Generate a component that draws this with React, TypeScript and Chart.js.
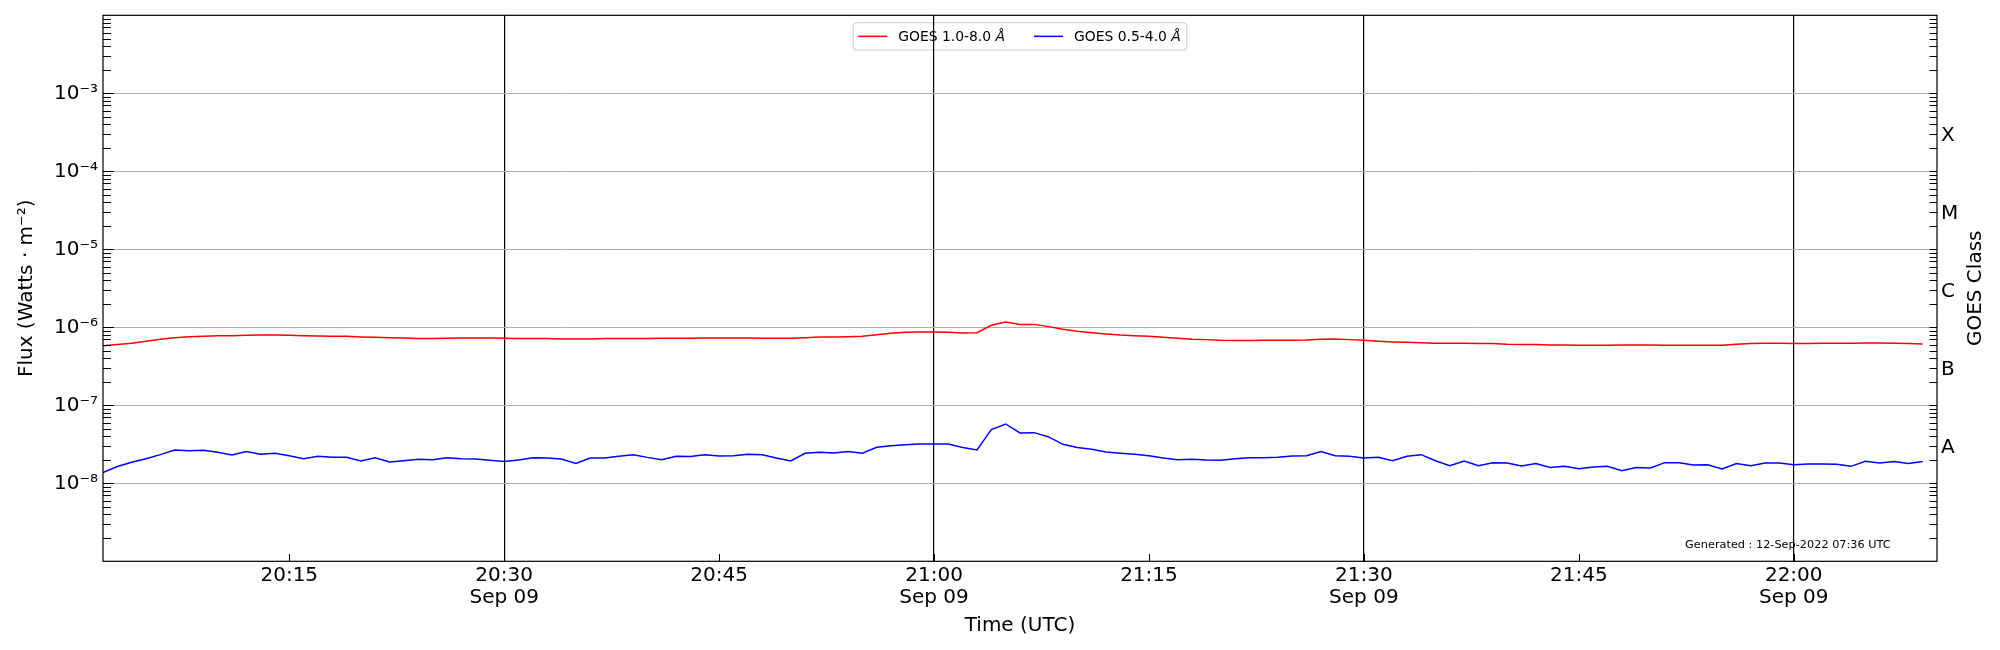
import React, { useEffect, useRef } from "react";
import { Chart, registerables } from "chart.js";

Chart.register(...registerables);

const FONT = "'DejaVu Sans', sans-serif";

// time axis, minutes after 00:00 UTC on Sep 09
const START_MINUTE = 20 * 60 + 2;
const END_MINUTE = 22 * 60 + 10;
const TICK_MINUTES = [1215, 1230, 1245, 1260, 1275, 1290, 1305, 1320];
const DATE_LABEL = "Sep 09";

// flux axis
const FLUX_MIN = 1e-9;
const FLUX_MAX = 1e-2;
const FLUX_DECADES = [-8, -7, -6, -5, -4, -3];
const CLASS_LABELS = ["A", "B", "C", "M", "X"];
const CLASS_CENTERS = [-7.5, -6.5, -5.5, -4.5, -3.5];

const LONG_LABEL = "GOES 1.0-8.0 Å";
const SHORT_LABEL = "GOES 0.5-4.0 Å";
const GENERATED_NOTE = "Generated : 12-Sep-2022 07:36 UTC";

// one value per minute from 20:02 to 22:09
const xrsLong: number[] = [
  5.82e-7, 6.0e-7, 6.24e-7, 6.62e-7, 7.02e-7, 7.37e-7, 7.59e-7, 7.67e-7, 7.82e-7, 7.82e-7,
  7.89e-7, 7.97e-7, 7.97e-7, 7.89e-7, 7.82e-7, 7.74e-7, 7.67e-7, 7.67e-7, 7.52e-7, 7.44e-7,
  7.37e-7, 7.3e-7, 7.16e-7, 7.16e-7, 7.23e-7, 7.3e-7, 7.3e-7, 7.3e-7, 7.23e-7, 7.16e-7,
  7.16e-7, 7.16e-7, 7.08e-7, 7.08e-7, 7.08e-7, 7.16e-7, 7.16e-7, 7.16e-7, 7.16e-7, 7.23e-7,
  7.23e-7, 7.23e-7, 7.3e-7, 7.3e-7, 7.3e-7, 7.3e-7, 7.23e-7, 7.23e-7, 7.23e-7, 7.37e-7,
  7.52e-7, 7.52e-7, 7.59e-7, 7.67e-7, 8.05e-7, 8.38e-7, 8.63e-7, 8.71e-7, 8.71e-7, 8.63e-7,
  8.46e-7, 8.54e-7, 1.06e-6, 1.17e-6, 1.09e-6, 1.09e-6, 1.02e-6, 9.43e-7, 8.89e-7, 8.54e-7,
  8.22e-7, 7.97e-7, 7.82e-7, 7.67e-7, 7.44e-7, 7.23e-7, 7.02e-7, 6.95e-7, 6.81e-7, 6.75e-7,
  6.75e-7, 6.81e-7, 6.81e-7, 6.81e-7, 6.88e-7, 7.02e-7, 7.08e-7, 6.95e-7, 6.81e-7, 6.62e-7,
  6.49e-7, 6.42e-7, 6.36e-7, 6.24e-7, 6.24e-7, 6.24e-7, 6.2e-7, 6.18e-7, 6.05e-7, 6.0e-7,
  6.0e-7, 5.94e-7, 5.94e-7, 5.88e-7, 5.88e-7, 5.88e-7, 5.94e-7, 5.94e-7, 5.94e-7, 5.88e-7,
  5.88e-7, 5.88e-7, 5.88e-7, 5.88e-7, 6.05e-7, 6.18e-7, 6.24e-7, 6.24e-7, 6.18e-7, 6.18e-7,
  6.24e-7, 6.24e-7, 6.24e-7, 6.3e-7, 6.3e-7, 6.24e-7, 6.18e-7, 6.11e-7,
];

const xrsShort: number[] = [
  1.37e-8, 1.64e-8, 1.86e-8, 2.07e-8, 2.33e-8, 2.67e-8, 2.62e-8, 2.65e-8, 2.5e-8, 2.31e-8,
  2.55e-8, 2.35e-8, 2.43e-8, 2.26e-8, 2.07e-8, 2.22e-8, 2.15e-8, 2.15e-8, 1.93e-8, 2.13e-8,
  1.88e-8, 1.95e-8, 2.03e-8, 2.01e-8, 2.13e-8, 2.07e-8, 2.05e-8, 1.97e-8, 1.9e-8, 1.99e-8,
  2.13e-8, 2.11e-8, 2.05e-8, 1.8e-8, 2.11e-8, 2.11e-8, 2.22e-8, 2.33e-8, 2.15e-8, 2.01e-8,
  2.22e-8, 2.2e-8, 2.33e-8, 2.24e-8, 2.26e-8, 2.35e-8, 2.33e-8, 2.11e-8, 1.93e-8, 2.43e-8,
  2.5e-8, 2.45e-8, 2.55e-8, 2.43e-8, 2.89e-8, 3.04e-8, 3.13e-8, 3.19e-8, 3.19e-8, 3.19e-8,
  2.87e-8, 2.67e-8, 4.88e-8, 5.76e-8, 4.42e-8, 4.46e-8, 3.93e-8, 3.16e-8, 2.87e-8, 2.73e-8,
  2.52e-8, 2.43e-8, 2.35e-8, 2.26e-8, 2.11e-8, 2.01e-8, 2.03e-8, 1.99e-8, 1.97e-8, 2.07e-8,
  2.13e-8, 2.13e-8, 2.15e-8, 2.24e-8, 2.26e-8, 2.55e-8, 2.26e-8, 2.22e-8, 2.11e-8, 2.15e-8,
  1.95e-8, 2.22e-8, 2.33e-8, 1.95e-8, 1.68e-8, 1.93e-8, 1.68e-8, 1.84e-8, 1.82e-8, 1.67e-8,
  1.79e-8, 1.59e-8, 1.65e-8, 1.54e-8, 1.62e-8, 1.65e-8, 1.45e-8, 1.59e-8, 1.57e-8, 1.84e-8,
  1.84e-8, 1.72e-8, 1.73e-8, 1.53e-8, 1.79e-8, 1.68e-8, 1.82e-8, 1.82e-8, 1.73e-8, 1.77e-8,
  1.77e-8, 1.75e-8, 1.65e-8, 1.91e-8, 1.82e-8, 1.9e-8, 1.8e-8, 1.9e-8,
];

const SUPERSCRIPT: Record<string, string> = {
  "-": "⁻", "0": "⁰", "1": "¹", "2": "²", "3": "³", "4": "⁴",
  "5": "⁵", "6": "⁶", "7": "⁷", "8": "⁸", "9": "⁹",
};

const powerLabel = (exp: number) =>
  "10" + String(exp).split("").map((c) => SUPERSCRIPT[c]).join("");

const clock = (m: number) =>
  `${String(Math.floor(m / 60)).padStart(2, "0")}:${String(m % 60).padStart(2, "0")}`;

// frame, inward ticks, legend box and the extra texts matplotlib puts around the axes
const goesDecor = {
  id: "goesDecor",
  beforeDraw(chart: any) {
    const { ctx, chartArea } = chart;
    ctx.save();
    ctx.fillStyle = "#fff";
    ctx.fillRect(0, 0, chart.width, chart.height);

    // legend, centred at the top of the axes
    const size = 13.9;
    const normal = `${size}px ${FONT}`;
    const italic = `italic ${size}px ${FONT}`;
    const items = chart.data.datasets.map((ds: any) => {
      const head = ds.label.slice(0, -1);
      const tail = ds.label.slice(-1);
      ctx.font = normal;
      const w1 = ctx.measureText(head).width;
      ctx.font = italic;
      const w2 = ctx.measureText(tail).width;
      return { head, tail, w1, width: w1 + w2, color: ds.borderColor };
    });
    const lineLen = 29;
    const total =
      5 + items.reduce((s: number, it: any) => s + lineLen + 11 + it.width, 0) + 29 * (items.length - 1) + 6;
    const boxX = (chartArea.left + chartArea.right) / 2 - total / 2;
    const boxY = chartArea.top + 7.4;
    const boxH = 27.3;
    ctx.beginPath();
    ctx.roundRect(boxX, boxY, total, boxH, 3);
    ctx.fillStyle = "rgba(255,255,255,0.8)";
    ctx.fill();
    ctx.strokeStyle = "#cccccc";
    ctx.lineWidth = 1;
    ctx.stroke();

    const midY = boxY + boxH / 2;
    let x = boxX + 5;
    items.forEach((it: any) => {
      ctx.strokeStyle = it.color;
      ctx.lineWidth = 1.5;
      ctx.beginPath();
      ctx.moveTo(x, midY);
      ctx.lineTo(x + lineLen, midY);
      ctx.stroke();
      ctx.fillStyle = "#000";
      ctx.textBaseline = "alphabetic";
      ctx.textAlign = "left";
      ctx.font = normal;
      ctx.fillText(it.head, x + lineLen + 11, midY + 5.1);
      ctx.font = italic;
      ctx.fillText(it.tail, x + lineLen + 11 + it.w1, midY + 5.1);
      x += lineLen + 11 + it.width + 29;
    });
    ctx.restore();
  },
  afterDraw(chart: any) {
    const { ctx, chartArea } = chart;
    const { left, right, top, bottom } = chartArea;
    const xs = chart.scales.x;
    const ys = chart.scales.y;
    ctx.save();
    ctx.strokeStyle = "#000";
    ctx.lineWidth = 1;

    // inward ticks on both flux axes
    for (let e = -9; e < -2; e++) {
      for (let m = 1; m <= 9; m++) {
        const v = m * Math.pow(10, e);
        if (v <= FLUX_MIN * 1.0001 || v >= FLUX_MAX * 0.9999) continue;
        const py = Math.round(ys.getPixelForValue(v)) + 0.5;
        const len = m === 1 ? 11 : 8;
        ctx.beginPath();
        ctx.moveTo(left, py);
        ctx.lineTo(left + len, py);
        ctx.moveTo(right - 7.5, py);
        ctx.lineTo(right, py);
        ctx.stroke();
      }
    }
    // inward ticks on the time axis
    TICK_MINUTES.forEach((t) => {
      const px = Math.round(xs.getPixelForValue(t)) + 0.5;
      ctx.beginPath();
      ctx.moveTo(px, bottom);
      ctx.lineTo(px, bottom - 7.3);
      ctx.stroke();
    });

    // axes frame
    ctx.lineWidth = 1.2;
    ctx.strokeRect(left, top, right - left, bottom - top);

    // right hand axis title, reading upwards like the left one
    ctx.fillStyle = "#000";
    ctx.font = `20px ${FONT}`;
    ctx.textAlign = "center";
    ctx.textBaseline = "middle";
    ctx.translate(right + 38.5, (top + bottom) / 2);
    ctx.rotate(-Math.PI / 2);
    ctx.fillText("GOES Class", 0, 0);
    ctx.setTransform(1, 0, 0, 1, 0, 0);
    ctx.restore();

    ctx.save();
    ctx.fillStyle = "#000";
    ctx.font = `11.3px ${FONT}`;
    ctx.textAlign = "right";
    ctx.textBaseline = "alphabetic";
    ctx.fillText(GENERATED_NOTE, right - 46.3, bottom - 13.6);
    ctx.restore();
  },
};

export default function App() {
  const canvasRef = useRef<HTMLCanvasElement>(null);

  useEffect(() => {
    if (!canvasRef.current) return;
    const chart = new Chart(canvasRef.current, {
      type: "line",
      data: {
        datasets: [
          {
            label: LONG_LABEL,
            data: xrsLong.map((v, i) => ({ x: START_MINUTE + i, y: v })),
            borderColor: "#ff0000",
            borderWidth: 1.5,
            pointRadius: 0,
            tension: 0,
            fill: false,
            yAxisID: "y",
          },
          {
            label: SHORT_LABEL,
            data: xrsShort.map((v, i) => ({ x: START_MINUTE + i, y: v })),
            borderColor: "#0000ff",
            borderWidth: 1.5,
            pointRadius: 0,
            tension: 0,
            fill: false,
            yAxisID: "y",
          },
        ],
      },
      options: {
        animation: false,
        responsive: false,
        layout: { padding: { top: 15.3, left: 0, right: 0, bottom: 0 } },
        plugins: {
          legend: { display: false },
          tooltip: { enabled: false },
        },
        scales: {
          x: {
            type: "linear",
            min: START_MINUTE,
            max: END_MINUTE,
            afterBuildTicks: (s: any) => {
              s.ticks = TICK_MINUTES.map((v) => ({ value: v }));
            },
            afterFit: (s: any) => {
              s.height = 88.7;
              s.paddingLeft = 0;
              s.paddingRight = 0;
            },
            ticks: {
              autoSkip: false,
              maxRotation: 0,
              padding: 3,
              color: "#000",
              font: { family: FONT, size: 20, lineHeight: 1.13 },
              callback: (v: any) => {
                const m = Number(v);
                return m % 30 === 0 ? [clock(m), DATE_LABEL] : clock(m);
              },
            },
            grid: {
              drawTicks: false,
              lineWidth: 1.2,
              color: (c: any) =>
                c.tick && c.tick.value % 30 === 0 ? "#000" : "rgba(0,0,0,0)",
            },
            border: { display: false },
            title: {
              display: true,
              text: "Time (UTC)",
              color: "#000",
              font: { family: FONT, size: 20 },
              padding: 12.5,
            },
          },
          y: {
            type: "logarithmic",
            position: "left",
            min: FLUX_MIN,
            max: FLUX_MAX,
            afterBuildTicks: (s: any) => {
              s.ticks = FLUX_DECADES.map((e) => ({ value: Math.pow(10, e) }));
            },
            afterFit: (s: any) => {
              s.width = 103;
              s.paddingTop = 0;
              s.paddingBottom = 0;
            },
            ticks: {
              padding: 5,
              color: "#000",
              font: { family: FONT, size: 20 },
              callback: (v: any) => powerLabel(Math.round(Math.log10(Number(v)))),
            },
            grid: { drawTicks: false, color: "#b0b0b0", lineWidth: 1 },
            border: { display: false },
            title: {
              display: true,
              text: "Flux (Watts · m⁻²)",
              color: "#000",
              font: { family: FONT, size: 20 },
              padding: 15,
            },
          },
          y2: {
            type: "logarithmic",
            position: "right",
            min: FLUX_MIN,
            max: FLUX_MAX,
            afterBuildTicks: (s: any) => {
              s.ticks = CLASS_CENTERS.map((e) => ({ value: Math.pow(10, e) }));
            },
            afterFit: (s: any) => {
              s.width = 63;
              s.paddingTop = 0;
              s.paddingBottom = 0;
            },
            ticks: {
              padding: 4,
              labelOffset: 3.5,
              color: "#000",
              font: { family: FONT, size: 20 },
              callback: (_v: any, i: number) => CLASS_LABELS[i],
            },
            grid: { display: false, drawTicks: false },
            border: { display: false },
          },
        },
      },
      plugins: [goesDecor],
    });
    return () => chart.destroy();
  }, []);

  return (
    <div style={{ position: "absolute", left: 0, top: 0, width: 2000, height: 650, background: "#fff" }}>
      <canvas ref={canvasRef} width={2000} height={650} style={{ display: "block", width: "2000px", height: "650px" }} />
    </div>
  );
}
